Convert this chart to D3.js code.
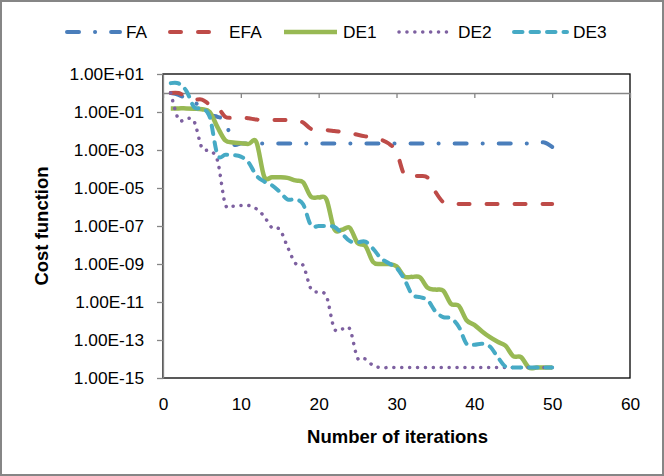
<!DOCTYPE html>
<html>
<head>
<meta charset="utf-8">
<script src="https://cdn.jsdelivr.net/npm/d3@7/dist/d3.min.js"></script>
<style>
    body { margin: 0; background: #fff; }
    svg text { font-family: "Liberation Sans", Arial, sans-serif; fill: #000; }
</style>
</head>
<body>
<svg id="chart"></svg>
<script>
// iteration numbers (x categories)
const iterations = [1, 2, 3, 4, 5, 6, 7, 8, 9, 10, 11, 12, 13, 14, 15, 16, 17, 18, 19, 20,
    21, 22, 23, 24, 25, 26, 27, 28, 29, 30, 31, 32, 33, 34, 35, 36, 37, 38, 39, 40,
    41, 42, 43, 44, 45, 46, 47, 48, 49, 50];

// cost function values
const fa = [1, 0.8, 0.5, 0.32, 0.18, 0.07, 0.056, 0.032, 2.2e-3, 2.2e-3,
    2.2e-3, 2.2e-3, 2.2e-3, 2.2e-3, 2.2e-3, 2.2e-3, 2.2e-3, 2.2e-3, 2.2e-3, 2.2e-3,
    2.2e-3, 2.2e-3, 2.2e-3, 2.2e-3, 2.2e-3, 2.2e-3, 2.2e-3, 2.2e-3, 2.2e-3, 2.2e-3,
    2.2e-3, 2.2e-3, 2.2e-3, 2.2e-3, 2.2e-3, 2.2e-3, 2.2e-3, 2.2e-3, 2.2e-3, 2.2e-3,
    2.2e-3, 2.2e-3, 2.2e-3, 2.2e-3, 2.2e-3, 2.2e-3, 2.2e-3, 2.2e-3, 2.5e-3, 1.45e-3];

const efa = [1, 1, 0.63, 0.45, 0.45, 0.25, 0.18, 0.056, 0.05, 0.052,
    0.047, 0.04, 0.038, 0.038, 0.038, 0.038, 0.038, 0.028, 0.013, 0.0117,
    0.0112, 0.01, 0.0089, 0.0079, 0.0063, 0.0052, 0.0045, 0.0035, 0.0022, 7.9e-4,
    5e-5, 4.3e-5, 4.3e-5, 3.5e-5, 6.3e-6, 1.8e-6, 1.5e-6, 1.45e-6, 1.45e-6, 1.45e-6,
    1.45e-6, 1.45e-6, 1.45e-6, 1.45e-6, 1.45e-6, 1.45e-6, 1.45e-6, 1.45e-6, 1.45e-6, 1.45e-6];

const de1 = [0.155, 0.155, 0.155, 0.15, 0.14, 0.1, 0.016, 3.2e-3, 2.5e-3, 2.3e-3,
    2.1e-3, 2.6e-3, 4e-5, 3.7e-5, 3.7e-5, 3.4e-5, 2.5e-5, 2e-5, 3.5e-6, 3.2e-6,
    2.5e-6, 7e-8, 6.3e-8, 8e-8, 1.26e-8, 9e-9, 1.26e-9, 1e-9, 1e-9, 7.6e-10,
    2.2e-10, 2.1e-10, 2e-10, 5.6e-11, 4.5e-11, 4e-11, 8e-12, 6.3e-12, 1.1e-12, 6.3e-13,
    2.8e-13, 1.4e-13, 8e-14, 5e-14, 1.4e-14, 1.26e-14, 3.55e-15, 3.55e-15, 3.55e-15, 3.55e-15];

const de2 = [1, 0.04, 0.045, 0.032, 1.3e-3, 9e-4, 2.8e-4, 1.4e-6, 1.1e-6, 1.2e-6,
    1.2e-6, 8e-7, 3.2e-7, 8e-8, 6.6e-8, 8e-9, 1.1e-9, 8.5e-10, 5e-11, 3.2e-11,
    2e-11, 4e-13, 3.8e-13, 3.8e-13, 1.1e-14, 1e-14, 4.5e-15, 3.55e-15, 3.55e-15, 3.55e-15,
    3.55e-15, 3.55e-15, 3.55e-15, 3.55e-15, 3.55e-15, 3.55e-15, 3.55e-15, 3.55e-15, 3.55e-15, 3.55e-15,
    3.55e-15, 3.55e-15, 3.55e-15, 3.55e-15, 3.55e-15, 3.55e-15, 3.55e-15, 3.55e-15, 3.55e-15, 3.55e-15];

const de3 = [3.3, 3.2, 1.3, 0.18, 0.15, 0.056, 5.6e-4, 5.6e-4, 5.4e-4, 4.5e-4,
    2.2e-4, 4.5e-5, 2.2e-5, 1.4e-5, 6.3e-6, 2.5e-6, 2.5e-6, 1.4e-6, 1.1e-7, 1e-7,
    1e-7, 9e-8, 4e-8, 1.6e-8, 1.4e-8, 1.5e-8, 6.3e-9, 2e-9, 1.1e-9, 6.3e-10,
    1.6e-10, 2.5e-11, 1.8e-11, 1.26e-11, 3.2e-12, 1.6e-12, 1.4e-12, 5e-13, 6.3e-14, 5.6e-14,
    6.3e-14, 4.5e-14, 1.26e-14, 4e-15, 3.55e-15, 3.55e-15, 3.55e-15, 3.55e-15, 3.55e-15, 3.55e-15];

const seriesNames = ["FA", "EFA", "DE1", "DE2", "DE3"];
const xTicks = [0, 10, 20, 30, 40, 50, 60];
const yTicks = [1e1, 1e-1, 1e-3, 1e-5, 1e-7, 1e-9, 1e-11, 1e-13, 1e-15];

(function () {
    const width = 664, height = 476;
    const plot = {left: 163, right: 630, top: 74, bottom: 378};

    const styles = {
        FA:  {color: "#4A7EBB", width: 4,   dash: "12,16,0.1,16"},
        EFA: {color: "#BE4B48", width: 4,   dash: "11,17"},
        DE1: {color: "#98B954", width: 4.5, dash: null},
        DE2: {color: "#7D60A0", width: 3.5, dash: "0.1,7.8"},
        DE3: {color: "#46AAC5", width: 4,   dash: "8.5,8"}
    };
    const values = {FA: fa, EFA: efa, DE1: de1, DE2: de2, DE3: de3};

    const svg = d3.select("#chart")
        .attr("width", width)
        .attr("height", height)
        .attr("viewBox", `0 0 ${width} ${height}`);

    svg.append("rect")
        .attr("width", width)
        .attr("height", height)
        .attr("fill", "#fff");

    const x = d3.scaleLinear().domain([0, 60]).range([plot.left, plot.right]);
    const y = d3.scaleLog().domain([1e-15, 1e1]).range([plot.bottom, plot.top]);

    function sciFormat(v) {
        const e = Math.round(Math.log10(v));
        const sign = e < 0 ? "-" : "+";
        return "1.00E" + sign + String(Math.abs(e)).padStart(2, "0");
    }

    // plot area border
    svg.append("rect")
        .attr("x", plot.left)
        .attr("y", plot.top)
        .attr("width", plot.right - plot.left)
        .attr("height", plot.bottom - plot.top)
        .attr("fill", "#fff")
        .attr("stroke", "#000")
        .attr("stroke-width", 1.3);

    // y axis
    const yAxis = svg.append("g")
        .attr("transform", `translate(${plot.left},0)`)
        .call(d3.axisLeft(y).tickValues(yTicks).tickFormat(sciFormat).tickSize(6).tickPadding(13).tickSizeOuter(0));
    yAxis.select(".domain").attr("stroke", "#868686").attr("stroke-width", 1.3);
    yAxis.selectAll(".tick line").attr("stroke", "#868686").attr("stroke-width", 1.3);
    yAxis.selectAll(".tick text")
        .attr("font-size", 17.3)
        .attr("font-family", null)
        .attr("fill", "#000");

    // x axis crosses at 1 (Excel default for log axis)
    const xAxis = svg.append("g")
        .attr("transform", `translate(0,${y(1)})`)
        .call(d3.axisBottom(x).tickValues(xTicks).tickFormat("").tickSize(5).tickSizeOuter(0));
    xAxis.select(".domain").attr("stroke", "#868686").attr("stroke-width", 1.3);
    xAxis.selectAll(".tick line").attr("stroke", "#868686").attr("stroke-width", 1.3);

    // x tick labels sit low, below plot area
    const xLabels = svg.append("g")
        .attr("transform", `translate(0,${plot.bottom})`)
        .call(d3.axisBottom(x).tickValues(xTicks).tickSize(0).tickPadding(20));
    xLabels.select(".domain").remove();
    xLabels.selectAll(".tick text")
        .attr("font-size", 17.3)
        .attr("font-family", null)
        .attr("fill", "#000");

    // series
    const line = d3.line()
        .x((d, i) => x(iterations[i]))
        .y(d => y(d))
        .curve(d3.curveCardinal.tension(0));

    seriesNames.forEach(name => {
        const s = styles[name];
        svg.append("path")
            .datum(values[name])
            .attr("d", line)
            .attr("fill", "none")
            .attr("stroke", s.color)
            .attr("stroke-width", s.width)
            .attr("stroke-linecap", s.dash ? "round" : "butt")
            .attr("stroke-linejoin", "round")
            .attr("stroke-dasharray", s.dash);
    });

    // axis titles
    svg.append("text")
        .attr("x", (plot.left + plot.right) / 2 + 1)
        .attr("y", 443)
        .attr("text-anchor", "middle")
        .attr("font-size", 18.5)
        .attr("font-weight", "bold")
        .text("Number of iterations");

    svg.append("text")
        .attr("transform", `translate(48,${(plot.top + plot.bottom) / 2}) rotate(-90)`)
        .attr("text-anchor", "middle")
        .attr("font-size", 18.5)
        .attr("font-weight", "bold")
        .text("Cost function");

    // legend
    const legendX = [65, 168, 282, 397, 512];
    const legendY = 32;
    seriesNames.forEach((name, i) => {
        const s = styles[name];
        const g = svg.append("g").attr("transform", `translate(${legendX[i]},${legendY})`);
        g.append("line")
            .attr("x1", 2).attr("x2", 55)
            .attr("stroke", s.color)
            .attr("stroke-width", s.width)
            .attr("stroke-linecap", s.dash ? "round" : "butt")
            .attr("stroke-dasharray", s.dash);
        g.append("text")
            .attr("x", 61)
            .attr("y", 6)
            .attr("font-size", 17.3)
            .text(name);
    });

    // chart area border
    svg.append("rect")
        .attr("x", 1)
        .attr("y", 1)
        .attr("width", width - 2)
        .attr("height", height - 2)
        .attr("fill", "none")
        .attr("stroke", "#868686")
        .attr("stroke-width", 2);
})();
</script>
</body>
</html>
